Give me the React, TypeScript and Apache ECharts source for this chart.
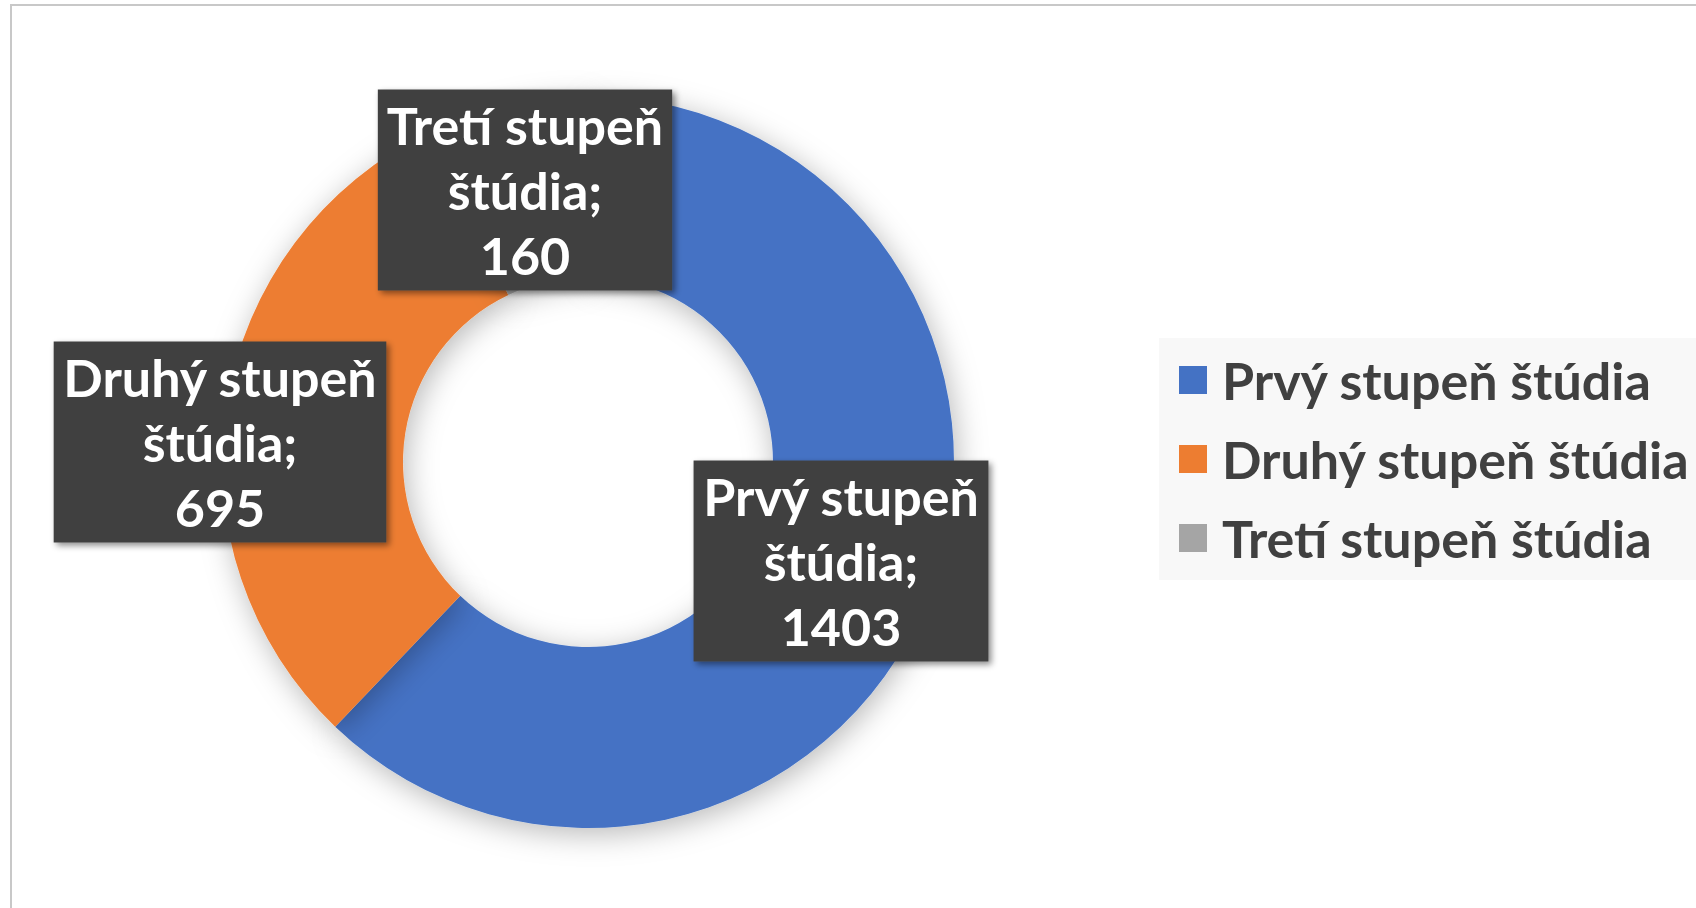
import React, { useEffect, useRef } from "react";
import * as echarts from "echarts";

const categories = ["Prvý stupeň štúdia", "Druhý stupeň štúdia", "Tretí stupeň štúdia"];
const values = [1403, 695, 160];
const colors = ["#4472C4", "#ED7D31", "#A5A5A5"];
// label box centres (px) for each slice, in category order
const labelCentres = [
  [841, 561],
  [220, 442],
  [525, 190],
];

export default function App() {
  const ref = useRef<HTMLDivElement>(null);
  useEffect(() => {
    document.body.style.margin = "0";
    const chart = echarts.init(ref.current!, undefined, { renderer: "svg" });
    const font = "Lato, 'Open Sans', sans-serif";
    chart.setOption({
      animation: false,
      backgroundColor: "#ffffff",
      color: colors,
      graphic: [
        {
          type: "rect",
          z: -10,
          shape: { x: 11, y: 5, width: 1720, height: 940 },
          style: { fill: "#ffffff", stroke: "#c8c8c8", lineWidth: 2 },
          silent: true,
        },
      ],
      legend: {
        orient: "vertical",
        left: 1159,
        top: 338,
        selectedMode: false,
        backgroundColor: "#f8f8f8",
        padding: [14, 80, 14, 20],
        itemWidth: 28,
        itemHeight: 28,
        itemGap: 23,
        icon: "rect",
        data: categories,
        textStyle: {
          fontFamily: font,
          fontWeight: "bold",
          fontSize: 52,
          lineHeight: 56,
          color: "#404040",
          padding: [0, 0, 0, 10],
        },
      },
      series: [
        {
          type: "pie",
          center: [588, 462],
          radius: [185, 366],
          startAngle: 90,
          clockwise: true,
          avoidLabelOverlap: false,
          itemStyle: {
            shadowBlur: 30,
            shadowColor: "rgba(0,0,0,0.28)",
            shadowOffsetX: 3,
            shadowOffsetY: 6,
          },
          emphasis: { disabled: true },
          labelLine: { show: false },
          label: {
            show: true,
            position: "outside",
            formatter: (p: any) =>
              p.name.replace(" štúdia", "\nštúdia") + ";\n" + p.value,
            fontFamily: font,
            fontWeight: "bold",
            fontSize: 52,
            lineHeight: 65,
            color: "#ffffff",
            align: "center",
            backgroundColor: "#414141",
            padding: [3, 9, 3, 9],
            shadowColor: "rgba(0,0,0,0.45)",
            shadowBlur: 6,
            shadowOffsetX: 3,
            shadowOffsetY: 3,
          },
          labelLayout: (params: any) => {
            const c = labelCentres[params.dataIndex];
            return { x: c[0], y: c[1], align: "center", verticalAlign: "middle" };
          },
          data: categories.map((name, i) => ({ name, value: values[i] })),
        },
      ],
    });
    return () => chart.dispose();
  }, []);
  return <div ref={ref} style={{ width: 1696, height: 908 }} />;
}
